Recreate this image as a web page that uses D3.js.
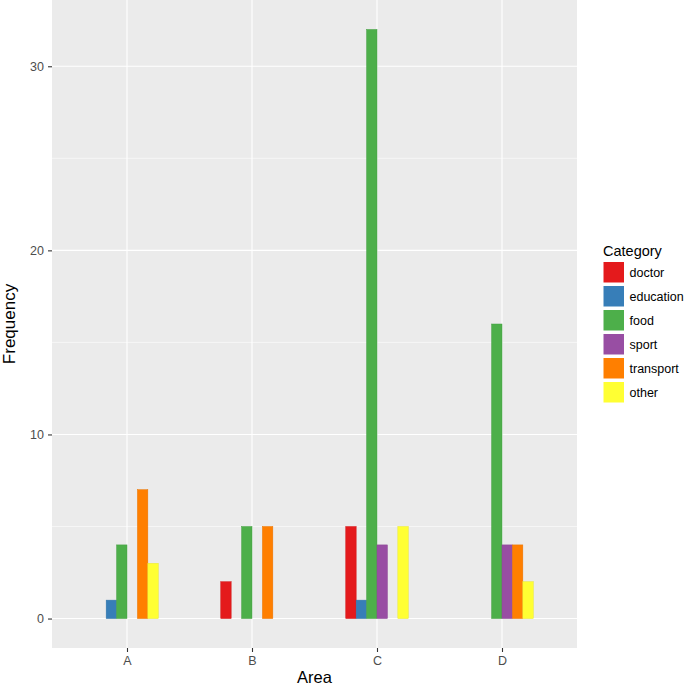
<!DOCTYPE html>
<html>
<head>
<meta charset="utf-8">
<script src="https://cdn.jsdelivr.net/npm/d3@7"></script>
<style>
  body { margin: 0; background: #fff; }
  svg text { font-family: "Liberation Sans", Arial, sans-serif; }
</style>
</head>
<body>
<svg id="chart" width="685" height="688"></svg>
<script>
// -------- data --------
const areas = ["A", "B", "C", "D"];
const categories = ["doctor", "education", "food", "sport", "transport", "other"];
const colours = ["#E41A1C", "#377EB8", "#4DAF4A", "#984EA3", "#FF7F00", "#FFFF33"];
// one value per area (A, B, C, D); null = no bar
const doctor = [null, 2, 5, null];
const education = [1, null, 1, null];
const food = [4, 5, 32, 16];
const sport = [null, null, 4, 4];
const transport = [7, 5, null, 4];
const other = [3, null, 5, 2];
const yTicks = [0, 10, 20, 30];
const yMinor = [5, 15, 25];

const series = [doctor, education, food, sport, transport, other];

// -------- setup --------
const svg = d3.select("#chart");
const panel = { left: 52, right: 577, top: 0, bottom: 648 };

// discrete x scale with ggplot's 0.6 expansion on each side
const x = d3
  .scaleLinear()
  .domain([0.4, areas.length + 0.6])
  .range([panel.left, panel.right]);

// y scale with 5% expansion of 0..32
const yMax = d3.max(series.flat());
const y = d3
  .scaleLinear()
  .domain([-yMax * 0.05, yMax * 1.05])
  .range([panel.bottom, panel.top]);

// dodge inside a 0.5 wide group
const slot = d3
  .scaleBand()
  .domain(categories)
  .range([-0.25, 0.25]);

// panel background
svg
  .append("rect")
  .attr("x", panel.left)
  .attr("y", panel.top)
  .attr("width", panel.right - panel.left)
  .attr("height", panel.bottom - panel.top)
  .attr("fill", "#EBEBEB");

// minor grid
svg
  .selectAll("line.minor")
  .data(yMinor)
  .enter()
  .append("line")
  .attr("x1", panel.left)
  .attr("x2", panel.right)
  .attr("y1", (d) => y(d))
  .attr("y2", (d) => y(d))
  .attr("stroke", "#fff")
  .attr("stroke-width", 0.55);

// major grid (horizontal + vertical)
svg
  .selectAll("line.hmajor")
  .data(yTicks)
  .enter()
  .append("line")
  .attr("x1", panel.left)
  .attr("x2", panel.right)
  .attr("y1", (d) => y(d))
  .attr("y2", (d) => y(d))
  .attr("stroke", "#fff")
  .attr("stroke-width", 1.1);

svg
  .selectAll("line.vmajor")
  .data(areas)
  .enter()
  .append("line")
  .attr("x1", (d, i) => x(i + 1))
  .attr("x2", (d, i) => x(i + 1))
  .attr("y1", panel.top)
  .attr("y2", panel.bottom)
  .attr("stroke", "#fff")
  .attr("stroke-width", 1.1);

// bars
const bars = [];
series.forEach(function (vals, ci) {
  vals.forEach(function (v, ai) {
    if (v !== null) bars.push({ area: ai + 1, cat: categories[ci], value: v, colour: colours[ci] });
  });
});

svg
  .append("g")
  .selectAll("rect")
  .data(bars)
  .enter()
  .append("rect")
  .attr("x", (d) => x(d.area + slot(d.cat)))
  .attr("width", (d) => x(d.area + slot(d.cat) + slot.bandwidth()) - x(d.area + slot(d.cat)))
  .attr("y", (d) => y(d.value))
  .attr("height", (d) => y(0) - y(d.value))
  .attr("fill", (d) => d.colour)
  .attr("stroke", (d) => d3.color(d.colour).darker(0.25))
  .attr("stroke-width", 0.5);

// y axis
const yAxis = d3.axisLeft(y).tickValues(yTicks).tickSize(4).tickPadding(4);
const gy = svg
  .append("g")
  .attr("transform", "translate(" + panel.left + ",0)")
  .call(yAxis);
gy.select(".domain").remove();
gy.selectAll("line").attr("stroke", "#333").attr("stroke-width", 1.1);
gy.selectAll("text")
  .attr("fill", "#4D4D4D")
  .style("font-size", "12.5px")
  .style("font-family", "'Liberation Sans', Arial, sans-serif");

// x axis
const xAxis = d3
  .axisBottom(x)
  .tickValues(areas.map((d, i) => i + 1))
  .tickFormat((d) => areas[d - 1])
  .tickSize(4)
  .tickPadding(4);
const gx = svg
  .append("g")
  .attr("transform", "translate(0," + panel.bottom + ")")
  .call(xAxis);
gx.select(".domain").remove();
gx.selectAll("line").attr("stroke", "#333").attr("stroke-width", 1.1);
gx.selectAll("text")
  .attr("fill", "#4D4D4D")
  .style("font-size", "12.5px")
  .style("font-family", "'Liberation Sans', Arial, sans-serif");

// axis titles
svg
  .append("text")
  .attr("x", (panel.left + panel.right) / 2)
  .attr("y", 683)
  .attr("text-anchor", "middle")
  .style("font-size", "16.5px")
  .attr("fill", "#000")
  .text("Area");

svg
  .append("text")
  .attr("transform", "translate(15," + (panel.top + panel.bottom) / 2 + ") rotate(-90)")
  .attr("text-anchor", "middle")
  .style("font-size", "17px")
  .attr("fill", "#000")
  .text("Frequency");

// legend
const legend = svg.append("g").attr("transform", "translate(603,0)");
legend
  .append("text")
  .attr("x", 0)
  .attr("y", 256)
  .style("font-size", "14.5px")
  .text("Category");

const keyH = 24;
const entry = legend
  .selectAll("g.entry")
  .data(categories)
  .enter()
  .append("g")
  .attr("transform", (d, i) => "translate(0," + (261.5 + i * keyH) + ")");

entry
  .append("rect")
  .attr("x", 0)
  .attr("y", 0)
  .attr("width", 21.5)
  .attr("height", 21.5)
  .attr("fill", (d, i) => colours[i])
  .attr("stroke", "#fff")
  .attr("stroke-width", 1);

entry
  .append("text")
  .attr("x", 26.5)
  .attr("y", 15.5)
  .style("font-size", "12.5px")
  .attr("fill", "#000")
  .text((d) => d);
</script>
</body>
</html>
